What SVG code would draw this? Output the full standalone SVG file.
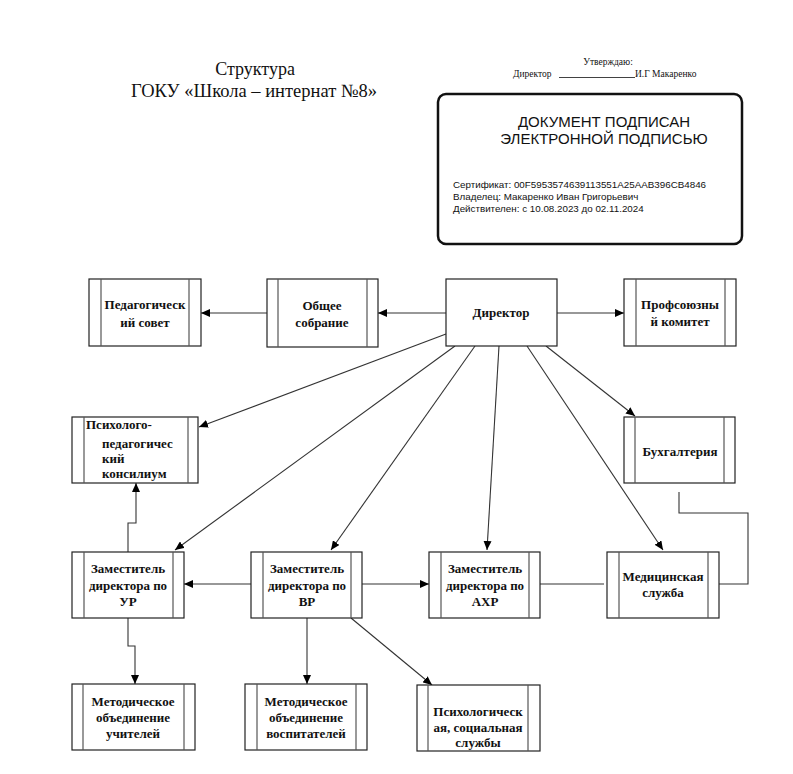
<svg xmlns="http://www.w3.org/2000/svg" width="793" height="774" viewBox="0 0 793 774">
<defs>
<marker id="arr" markerUnits="userSpaceOnUse" markerWidth="10" markerHeight="8" refX="9" refY="4" orient="auto">
<path d="M0,0 L9,4 L0,8 Z" fill="#000"/>
</marker>
<style>
.box{fill:#fff;stroke:#222;stroke-width:1.2}
.in{stroke:#555;stroke-width:1.2}
.t{font-family:"Liberation Serif","DejaVu Serif","Times New Roman",serif;font-weight:bold;font-size:13px;fill:#111;text-anchor:middle}
.tl{font-family:"Liberation Serif","DejaVu Serif","Times New Roman",serif;font-weight:bold;font-size:13px;fill:#111}
.c{fill:none;stroke:#333;stroke-width:1.1}
.a{marker-end:url(#arr)}
.h{font-family:"Liberation Serif","DejaVu Serif","Times New Roman",serif;fill:#111}
.s{font-family:"Liberation Sans",Arial,sans-serif;fill:#111}
</style>
</defs>
<rect width="793" height="774" fill="#fff"/>

<g id="header">
<text class="h" x="255" y="75" font-size="18" text-anchor="middle">Структура</text>
<text class="h" x="254" y="97" font-size="18.5" text-anchor="middle">ГОКУ «Школа – интернат №8»</text>
<text class="h" x="608" y="65" font-size="9.5" text-anchor="middle">Утверждаю:</text>
<text class="h" x="513" y="77" font-size="9.5">Директор</text>
<line x1="559" y1="77.5" x2="635" y2="77.5" stroke="#111" stroke-width="0.8"/>
<text class="h" x="635" y="77" font-size="9.5">И.Г Макаренко</text>
</g>

<g id="signature">
<rect x="438" y="94" width="304" height="150" rx="8" fill="#fff" stroke="#111" stroke-width="2.5"/>
<text class="s" x="604" y="127" font-size="15" text-anchor="middle">ДОКУМЕНТ ПОДПИСАН</text>
<text class="s" x="604" y="144" font-size="15" text-anchor="middle">ЭЛЕКТРОННОЙ ПОДПИСЬЮ</text>
<text class="s" x="453" y="188" font-size="9.8">Сертификат:  00F5953574639113551A25AAB396CB4846</text>
<text class="s" x="453" y="200" font-size="9.8">Владелец: Макаренко Иван Григорьевич</text>
<text class="s" x="453" y="212" font-size="9.8">Действителен: с 10.08.2023 до 02.11.2024</text>
</g>

<g id="connectors">
<line class="c a" x1="267" y1="313" x2="201" y2="313"/>
<line class="c a" x1="446" y1="313" x2="378" y2="313"/>
<line class="c a" x1="557" y1="313" x2="624" y2="313"/>
<line class="c a" x1="446" y1="334" x2="199" y2="427"/>
<line class="c a" x1="455" y1="346" x2="175" y2="550"/>
<line class="c a" x1="475" y1="346" x2="331" y2="550"/>
<line class="c a" x1="499" y1="346" x2="487" y2="550"/>
<line class="c a" x1="527" y1="346" x2="663" y2="550"/>
<line class="c a" x1="546" y1="346" x2="635" y2="416"/>
<polyline class="c a" points="128,552 128,523 136,523 136,483"/>
<polyline class="c a" points="128,618 128,646 135,646 135,684"/>
<line class="c a" x1="251" y1="584" x2="184" y2="584"/>
<line class="c a" x1="362" y1="584" x2="429" y2="584"/>
<line class="c a" x1="307" y1="618" x2="307" y2="684"/>
<line class="c a" x1="351" y1="618" x2="432" y2="685"/>
<line class="c" x1="540" y1="584" x2="604" y2="584"/>
<polyline class="c" points="679,492 679,513 748,513 748,584 719,584"/>
</g>

<g id="n-ped">
<rect class="box" x="89" y="279" width="112" height="67"/>
<line class="in" x1="101" y1="279" x2="101" y2="346"/><line class="in" x1="189" y1="279" x2="189" y2="346"/>
<text class="t" x="145" y="309">Педагогическ</text><text class="t" x="145" y="327">ий совет</text>
</g>
<g id="n-obsh">
<rect class="box" x="267" y="279" width="111" height="68"/>
<line class="in" x1="278" y1="279" x2="278" y2="347"/><line class="in" x1="367" y1="279" x2="367" y2="347"/>
<text class="t" x="322" y="310">Общее</text><text class="t" x="322" y="327">собрание</text>
</g>
<g id="n-dir">
<rect class="box" x="446" y="279" width="111" height="67"/>
<text class="t" x="501" y="317">Директор</text>
</g>
<g id="n-prof">
<rect class="box" x="624" y="279" width="112" height="67"/>
<line class="in" x1="636" y1="279" x2="636" y2="346"/><line class="in" x1="725" y1="279" x2="725" y2="346"/>
<text class="t" x="680" y="309">Профсоюзны</text><text class="t" x="680" y="326">й комитет</text>
</g>
<g id="n-ppk">
<rect class="box" x="72" y="417" width="126" height="66"/>
<line class="in" x1="84" y1="417" x2="84" y2="483"/><line class="in" x1="188" y1="417" x2="188" y2="483"/>
<text class="tl" x="86" y="429">Психолого-</text>
<text class="tl" x="102" y="448">педагогичес</text>
<text class="tl" x="102" y="463">кий</text>
<text class="tl" x="102" y="478">консилиум</text>
</g>
<g id="n-buh">
<rect class="box" x="624" y="417" width="111" height="66"/>
<line class="in" x1="635" y1="417" x2="635" y2="483"/><line class="in" x1="724" y1="417" x2="724" y2="483"/>
<text class="t" x="680" y="456">Бухгалтерия</text>
</g>
<g id="n-zur">
<rect class="box" x="72" y="552" width="112" height="66"/>
<line class="in" x1="84" y1="552" x2="84" y2="618"/><line class="in" x1="173" y1="552" x2="173" y2="618"/>
<text class="t" x="128" y="573">Заместитель</text><text class="t" x="128" y="590">директора по</text><text class="t" x="128" y="606">УР</text>
</g>
<g id="n-zvr">
<rect class="box" x="251" y="552" width="111" height="66"/>
<line class="in" x1="263" y1="552" x2="263" y2="618"/><line class="in" x1="351" y1="552" x2="351" y2="618"/>
<text class="t" x="307" y="573">Заместитель</text><text class="t" x="307" y="590">директора по</text><text class="t" x="307" y="606">ВР</text>
</g>
<g id="n-zahr">
<rect class="box" x="429" y="552" width="111" height="66"/>
<line class="in" x1="441" y1="552" x2="441" y2="618"/><line class="in" x1="529" y1="552" x2="529" y2="618"/>
<text class="t" x="485" y="573">Заместитель</text><text class="t" x="485" y="590">директора по</text><text class="t" x="485" y="606">АХР</text>
</g>
<g id="n-med">
<rect class="box" x="607" y="552" width="112" height="66"/>
<line class="in" x1="619" y1="552" x2="619" y2="618"/><line class="in" x1="708" y1="552" x2="708" y2="618"/>
<text class="t" x="663" y="581">Медицинская</text><text class="t" x="663" y="597">служба</text>
</g>
<g id="n-mou">
<rect class="box" x="72" y="684" width="123" height="66"/>
<line class="in" x1="83" y1="684" x2="83" y2="750"/><line class="in" x1="184" y1="684" x2="184" y2="750"/>
<text class="t" x="133" y="706">Методическое</text><text class="t" x="133" y="722">объединение</text><text class="t" x="133" y="738">учителей</text>
</g>
<g id="n-mov">
<rect class="box" x="245" y="684" width="122" height="66"/>
<line class="in" x1="257" y1="684" x2="257" y2="750"/><line class="in" x1="356" y1="684" x2="356" y2="750"/>
<text class="t" x="306" y="706">Методическое</text><text class="t" x="306" y="722">объединение</text><text class="t" x="306" y="738">воспитателей</text>
</g>
<g id="n-psy">
<rect class="box" x="417" y="685" width="123" height="66"/>
<line class="in" x1="428" y1="685" x2="428" y2="751"/><line class="in" x1="528" y1="685" x2="528" y2="751"/>
<text class="t" x="478" y="716">Психологическ</text><text class="t" x="478" y="732">ая, социальная</text><text class="t" x="478" y="747">службы</text>
</g>
</svg>
